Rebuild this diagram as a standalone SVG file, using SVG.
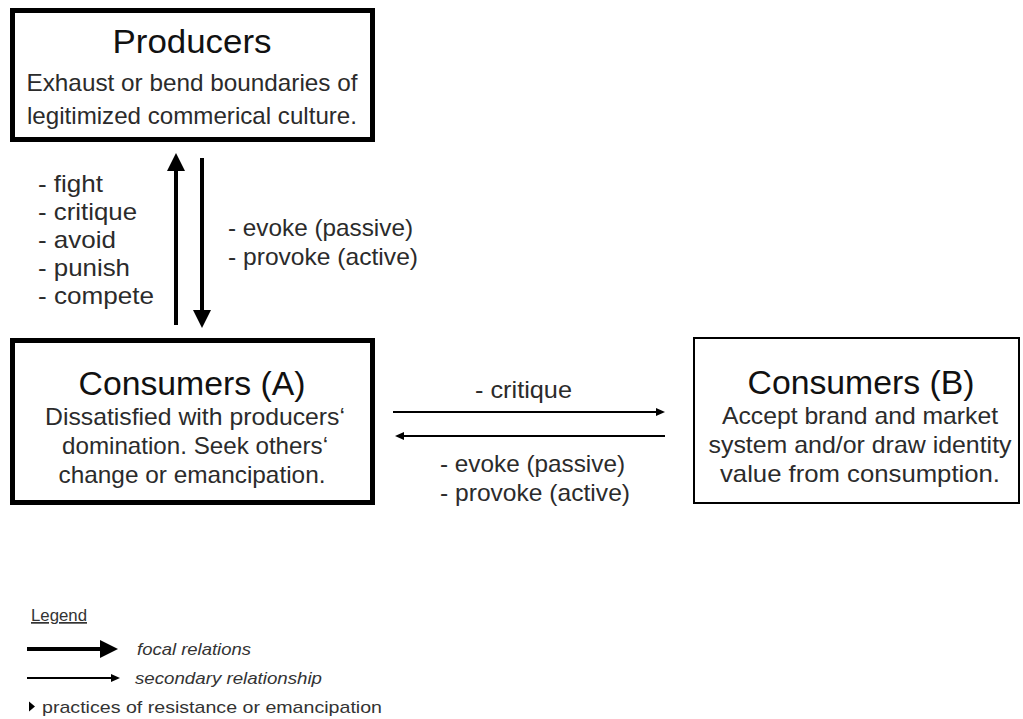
<svg xmlns="http://www.w3.org/2000/svg" width="1023" height="719" viewBox="0 0 1023 719">
<style>
text{font-family:"Liberation Sans",Arial,sans-serif;fill:#222}
.title{font-size:33px;text-anchor:middle;fill:#111}
.sub{font-size:24px;text-anchor:middle;fill:#2b2b2b}
.lbl{font-size:24px;fill:#2b2b2b}
.leg{font-size:17px;fill:#333}
.thick{stroke:#000;stroke-width:4;fill:none}
.thin{stroke:#000;stroke-width:2;fill:none}
</style>
<defs>
<marker id="big" markerUnits="userSpaceOnUse" viewBox="0 0 18 18" markerWidth="18" markerHeight="18" refX="8" refY="9" orient="auto"><path d="M0,0 L18,9 L0,18 Z" fill="#000"/></marker>
<marker id="small" markerUnits="userSpaceOnUse" viewBox="0 0 9 8" markerWidth="9" markerHeight="8" refX="3" refY="4" orient="auto"><path d="M0,0 L9,4 L0,8 Z" fill="#000"/></marker>
</defs>
<rect width="1023" height="719" fill="#fff"/>
<g id="producers">
<rect x="12.5" y="10.5" width="360" height="129" fill="#fff" stroke="#000" stroke-width="5"/>
<text class="title" x="192" y="53" textLength="159" lengthAdjust="spacingAndGlyphs">Producers</text>
<text class="sub" x="192" y="91" textLength="331" lengthAdjust="spacingAndGlyphs">Exhaust or bend boundaries of</text>
<text class="sub" x="192" y="124" textLength="330" lengthAdjust="spacingAndGlyphs">legitimized commerical culture.</text>
</g>
<g id="consumersA">
<rect x="12.5" y="340.5" width="360" height="162" fill="#fff" stroke="#000" stroke-width="5"/>
<text class="title" x="192" y="395" textLength="227" lengthAdjust="spacingAndGlyphs">Consumers (A)</text>
<text class="sub" x="195" y="425" textLength="300" lengthAdjust="spacingAndGlyphs">Dissatisfied with producers‘</text>
<text class="sub" x="195" y="454" textLength="266" lengthAdjust="spacingAndGlyphs">domination. Seek others‘</text>
<text class="sub" x="192" y="483" textLength="267" lengthAdjust="spacingAndGlyphs">change or emancipation.</text>
</g>
<g id="consumersB">
<rect x="694" y="338" width="325" height="165" fill="#fff" stroke="#000" stroke-width="2"/>
<text class="title" x="861" y="394" textLength="227" lengthAdjust="spacingAndGlyphs">Consumers (B)</text>
<text class="sub" x="860" y="424" textLength="276" lengthAdjust="spacingAndGlyphs">Accept brand and market</text>
<text class="sub" x="860" y="453" textLength="303" lengthAdjust="spacingAndGlyphs">system and/or draw identity</text>
<text class="sub" x="860" y="482" textLength="280" lengthAdjust="spacingAndGlyphs">value from consumption.</text>
</g>
<g id="connectors">
<line class="thick" x1="176" y1="325" x2="176" y2="163" marker-end="url(#big)"/>
<line class="thick" x1="202" y1="158" x2="202" y2="318" marker-end="url(#big)"/>
<line class="thin" x1="393" y1="412" x2="659" y2="412" marker-end="url(#small)"/>
<line class="thin" x1="665" y1="436" x2="401" y2="436" marker-end="url(#small)"/>
</g>
<g id="labels">
<text class="lbl" x="38" y="192" textLength="65" lengthAdjust="spacingAndGlyphs">- fight</text>
<text class="lbl" x="38" y="220" textLength="99" lengthAdjust="spacingAndGlyphs">- critique</text>
<text class="lbl" x="38" y="248" textLength="78" lengthAdjust="spacingAndGlyphs">- avoid</text>
<text class="lbl" x="38" y="276" textLength="92" lengthAdjust="spacingAndGlyphs">- punish</text>
<text class="lbl" x="38" y="304" textLength="116" lengthAdjust="spacingAndGlyphs">- compete</text>
<text class="lbl" x="228" y="236" textLength="185" lengthAdjust="spacingAndGlyphs">- evoke (passive)</text>
<text class="lbl" x="228" y="265" textLength="190" lengthAdjust="spacingAndGlyphs">- provoke (active)</text>
<text class="lbl" x="475" y="398" textLength="97" lengthAdjust="spacingAndGlyphs">- critique</text>
<text class="lbl" x="440" y="472" textLength="185" lengthAdjust="spacingAndGlyphs">- evoke (passive)</text>
<text class="lbl" x="440" y="501" textLength="190" lengthAdjust="spacingAndGlyphs">- provoke (active)</text>
</g>
<g id="legend">
<text class="leg" x="31" y="621" font-size="16" textLength="56" lengthAdjust="spacingAndGlyphs" text-decoration="underline">Legend</text>
<line class="thick" x1="27" y1="649" x2="108" y2="649" marker-end="url(#big)"/>
<text class="leg" x="137" y="655" font-style="italic" textLength="114" lengthAdjust="spacingAndGlyphs">focal relations</text>
<line class="thin" x1="27" y1="678" x2="114" y2="678" marker-end="url(#small)"/>
<text class="leg" x="135" y="684" font-style="italic" textLength="187" lengthAdjust="spacingAndGlyphs">secondary relationship</text>
<path d="M29,701.5 L35,706.5 L29,711.5 Z" fill="#000"/>
<text class="leg" x="42" y="713" textLength="340" lengthAdjust="spacingAndGlyphs">practices of resistance or emancipation</text>
</g>
</svg>
